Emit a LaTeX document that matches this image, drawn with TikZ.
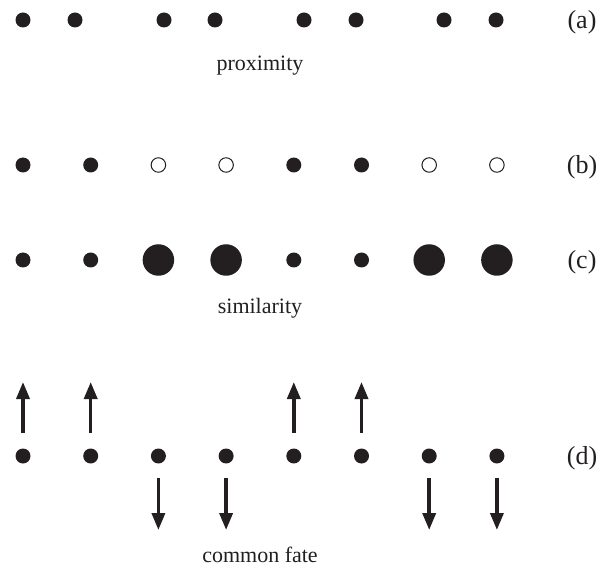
\documentclass[tikz,border=0pt]{standalone}
\usepackage{fontspec}
\setmainfont{Liberation Serif}
\usepackage{tikz}
\usetikzlibrary{arrows.meta}
\usepackage{xcolor}
\definecolor{ink}{HTML}{231F20}

\begin{document}
\begin{tikzpicture}[x=1pt,y=-1pt,font=\fontsize{22}{26}\selectfont,
  dotnode/.style={circle,fill=ink,inner sep=0pt,minimum size=15pt},
  opennode/.style={circle,draw=ink,line width=1pt,fill=white,inner sep=0pt,minimum size=14.5pt},
  bignode/.style={circle,fill=ink,inner sep=0pt,minimum size=31.5pt},
  rowlabel/.style={font=\fontsize{26}{30}\selectfont,text=ink},
  movearrow/.style={draw=ink,line width=3.5pt,-{Triangle[width=13pt,length=17pt]}}]
\useasboundingbox (0,0) rectangle (602,577);

% (a) proximity
\node[dotnode] (a1) at (23,20) {};
\node[dotnode] (a2) at (75,20) {};
\node[dotnode] (a3) at (164,20) {};
\node[dotnode] (a4) at (215,20) {};
\node[dotnode] (a5) at (304,20) {};
\node[dotnode] (a6) at (356,20) {};
\node[dotnode] (a7) at (444,20) {};
\node[dotnode] (a8) at (496,20) {};
\node[rowlabel] (la) at (582,22) {(a)};
\node[anchor=base,text=ink] (prox) at (260,71) {proximity};

% (b) filled and open
\node[dotnode] (b1) at (23,165) {};
\node[dotnode] (b2) at (90.7,165) {};
\node[opennode] (b3) at (158.4,165) {};
\node[opennode] (b4) at (226.1,165) {};
\node[dotnode] (b5) at (293.8,165) {};
\node[dotnode] (b6) at (361.5,165) {};
\node[opennode] (b7) at (429.2,165) {};
\node[opennode] (b8) at (496.9,165) {};
\node[rowlabel] (lb) at (582,167) {(b)};

% (c) small and large
\node[dotnode] (c1) at (23,260) {};
\node[dotnode] (c2) at (90.7,260) {};
\node[bignode] (c3) at (158.4,260) {};
\node[bignode] (c4) at (226.1,260) {};
\node[dotnode] (c5) at (293.8,260) {};
\node[dotnode] (c6) at (361.5,260) {};
\node[bignode] (c7) at (429.2,260) {};
\node[bignode] (c8) at (496.9,260) {};
\node[rowlabel] (lc) at (582,262) {(c)};
\node[anchor=base,text=ink] (simil) at (260,313) {similarity};

% (d) common fate
\node[dotnode] (d1) at (23,456) {};
\node[dotnode] (d2) at (90.7,456) {};
\node[dotnode] (d3) at (158.4,456) {};
\node[dotnode] (d4) at (226.1,456) {};
\node[dotnode] (d5) at (293.8,456) {};
\node[dotnode] (d6) at (361.5,456) {};
\node[dotnode] (d7) at (429.2,456) {};
\node[dotnode] (d8) at (496.9,456) {};
\node[rowlabel] (ld) at (582,458) {(d)};
\node[anchor=base,text=ink] (fate) at (260,562) {common fate};

\coordinate (u1) at (23,382);
\coordinate (u2) at (90.7,382);
\coordinate (u5) at (293.8,382);
\coordinate (u6) at (361.5,382);
\coordinate (w3) at (158.4,530);
\coordinate (w4) at (226.1,530);
\coordinate (w7) at (429.2,530);
\coordinate (w8) at (496.9,530);

\draw[movearrow] ([yshift=15.5pt]d1.north) -- (u1);
\draw[movearrow] ([yshift=15.5pt]d2.north) -- (u2);
\draw[movearrow] ([yshift=15.5pt]d5.north) -- (u5);
\draw[movearrow] ([yshift=15.5pt]d6.north) -- (u6);
\draw[movearrow] ([yshift=-14.5pt]d3.south) -- (w3);
\draw[movearrow] ([yshift=-14.5pt]d4.south) -- (w4);
\draw[movearrow] ([yshift=-14.5pt]d7.south) -- (w7);
\draw[movearrow] ([yshift=-14.5pt]d8.south) -- (w8);
\end{tikzpicture}
\end{document}
